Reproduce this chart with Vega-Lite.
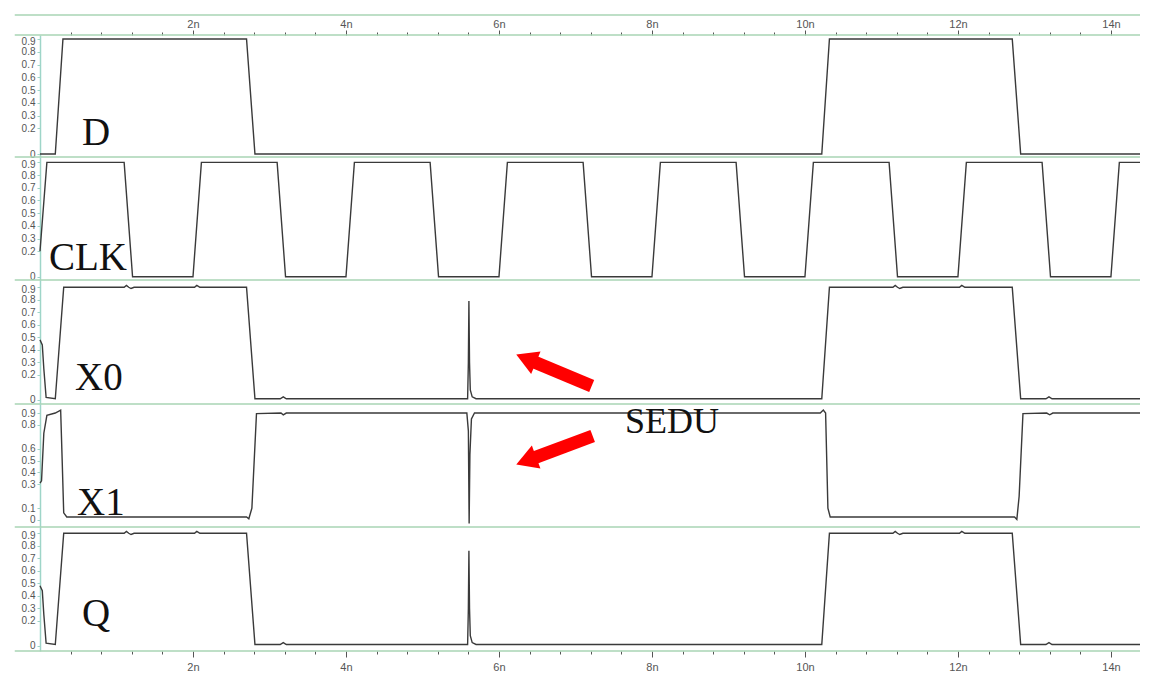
{
  "$schema": "https://vega.github.io/schema/vega-lite/v6.json",
  "background": "white",
  "padding": {"left": 14, "top": 14, "right": 20, "bottom": 10},
  "config": {"view": {"stroke": null}},
  "spacing": 0,
  "bounds": "flush",
  "datasets": {
    "w": [
      {"s":"D","t":0,"v":0},{"s":"D","t":0.2,"v":0},{"s":"D","t":0.3,"v":0.9},{"s":"D","t":2.7,"v":0.9},{"s":"D","t":2.81,"v":0},{"s":"D","t":10.22,"v":0},{"s":"D","t":10.32,"v":0.9},{"s":"D","t":12.71,"v":0.9},{"s":"D","t":12.82,"v":0},{"s":"D","t":14.38,"v":0},

      {"s":"CLK","t":0,"v":0.2},{"s":"CLK","t":0.09,"v":0.9},{"s":"CLK","t":1.1,"v":0.9},{"s":"CLK","t":1.21,"v":0},{"s":"CLK","t":2.0,"v":0},{"s":"CLK","t":2.11,"v":0.9},{"s":"CLK","t":3.1,"v":0.9},{"s":"CLK","t":3.21,"v":0},{"s":"CLK","t":4.0,"v":0},{"s":"CLK","t":4.11,"v":0.9},{"s":"CLK","t":5.1,"v":0.9},{"s":"CLK","t":5.21,"v":0},{"s":"CLK","t":6.0,"v":0},{"s":"CLK","t":6.11,"v":0.9},{"s":"CLK","t":7.1,"v":0.9},{"s":"CLK","t":7.21,"v":0},{"s":"CLK","t":8.0,"v":0},{"s":"CLK","t":8.11,"v":0.9},{"s":"CLK","t":9.1,"v":0.9},{"s":"CLK","t":9.21,"v":0},{"s":"CLK","t":10.0,"v":0},{"s":"CLK","t":10.11,"v":0.9},{"s":"CLK","t":11.1,"v":0.9},{"s":"CLK","t":11.21,"v":0},{"s":"CLK","t":12.0,"v":0},{"s":"CLK","t":12.11,"v":0.9},{"s":"CLK","t":13.1,"v":0.9},{"s":"CLK","t":13.21,"v":0},{"s":"CLK","t":14.0,"v":0},{"s":"CLK","t":14.11,"v":0.9},{"s":"CLK","t":14.38,"v":0.9},

      {"s":"X0","t":0,"v":0.48},{"s":"X0","t":0.03,"v":0.44},{"s":"X0","t":0.05,"v":0.25},{"s":"X0","t":0.08,"v":0.02},{"s":"X0","t":0.2,"v":0.01},{"s":"X0","t":0.31,"v":0.9},{"s":"X0","t":1.1,"v":0.9},{"s":"X0","t":1.13,"v":0.915},{"s":"X0","t":1.16,"v":0.9},{"s":"X0","t":1.19,"v":0.89},{"s":"X0","t":1.23,"v":0.9},{"s":"X0","t":2.02,"v":0.9},{"s":"X0","t":2.05,"v":0.915},{"s":"X0","t":2.09,"v":0.9},{"s":"X0","t":2.7,"v":0.9},{"s":"X0","t":2.81,"v":0.01},{"s":"X0","t":3.14,"v":0.01},{"s":"X0","t":3.18,"v":0.025},{"s":"X0","t":3.22,"v":0.01},{"s":"X0","t":5.59,"v":0.01},{"s":"X0","t":5.6,"v":0.3},{"s":"X0","t":5.607,"v":0.79},{"s":"X0","t":5.615,"v":0.3},{"s":"X0","t":5.625,"v":0.08},{"s":"X0","t":5.65,"v":0.025},{"s":"X0","t":5.7,"v":0.01},{"s":"X0","t":10.22,"v":0.01},{"s":"X0","t":10.32,"v":0.9},{"s":"X0","t":11.15,"v":0.9},{"s":"X0","t":11.18,"v":0.915},{"s":"X0","t":11.21,"v":0.9},{"s":"X0","t":11.24,"v":0.89},{"s":"X0","t":11.28,"v":0.9},{"s":"X0","t":12.02,"v":0.9},{"s":"X0","t":12.05,"v":0.915},{"s":"X0","t":12.09,"v":0.9},{"s":"X0","t":12.71,"v":0.9},{"s":"X0","t":12.82,"v":0.01},{"s":"X0","t":13.15,"v":0.01},{"s":"X0","t":13.19,"v":0.025},{"s":"X0","t":13.23,"v":0.01},{"s":"X0","t":14.38,"v":0.01},

      {"s":"X1","t":0,"v":0.31},{"s":"X1","t":0.02,"v":0.33},{"s":"X1","t":0.05,"v":0.73},{"s":"X1","t":0.09,"v":0.88},{"s":"X1","t":0.2,"v":0.9},{"s":"X1","t":0.27,"v":0.925},{"s":"X1","t":0.29,"v":0.5},{"s":"X1","t":0.31,"v":0.06},{"s":"X1","t":0.35,"v":0.025},{"s":"X1","t":2.7,"v":0.025},{"s":"X1","t":2.73,"v":0.01},{"s":"X1","t":2.77,"v":0.1},{"s":"X1","t":2.83,"v":0.895},{"s":"X1","t":3.15,"v":0.9},{"s":"X1","t":3.18,"v":0.885},{"s":"X1","t":3.22,"v":0.9},{"s":"X1","t":5.58,"v":0.9},{"s":"X1","t":5.6,"v":0.75},{"s":"X1","t":5.61,"v":-0.03},{"s":"X1","t":5.62,"v":0.55},{"s":"X1","t":5.64,"v":0.85},{"s":"X1","t":5.68,"v":0.9},{"s":"X1","t":10.2,"v":0.9},{"s":"X1","t":10.24,"v":0.925},{"s":"X1","t":10.27,"v":0.9},{"s":"X1","t":10.3,"v":0.1},{"s":"X1","t":10.33,"v":0.025},{"s":"X1","t":12.74,"v":0.025},{"s":"X1","t":12.77,"v":0.005},{"s":"X1","t":12.8,"v":0.2},{"s":"X1","t":12.85,"v":0.895},{"s":"X1","t":13.16,"v":0.9},{"s":"X1","t":13.2,"v":0.885},{"s":"X1","t":13.24,"v":0.9},{"s":"X1","t":14.38,"v":0.9},

      {"s":"Q","t":0,"v":0.48},{"s":"Q","t":0.03,"v":0.44},{"s":"Q","t":0.05,"v":0.25},{"s":"Q","t":0.08,"v":0.02},{"s":"Q","t":0.2,"v":0.01},{"s":"Q","t":0.31,"v":0.9},{"s":"Q","t":1.1,"v":0.9},{"s":"Q","t":1.13,"v":0.915},{"s":"Q","t":1.16,"v":0.9},{"s":"Q","t":1.19,"v":0.89},{"s":"Q","t":1.23,"v":0.9},{"s":"Q","t":2.02,"v":0.9},{"s":"Q","t":2.05,"v":0.915},{"s":"Q","t":2.09,"v":0.9},{"s":"Q","t":2.7,"v":0.9},{"s":"Q","t":2.81,"v":0.01},{"s":"Q","t":3.14,"v":0.01},{"s":"Q","t":3.18,"v":0.025},{"s":"Q","t":3.22,"v":0.01},{"s":"Q","t":5.59,"v":0.01},{"s":"Q","t":5.6,"v":0.3},{"s":"Q","t":5.607,"v":0.76},{"s":"Q","t":5.615,"v":0.3},{"s":"Q","t":5.625,"v":0.08},{"s":"Q","t":5.65,"v":0.025},{"s":"Q","t":5.7,"v":0.01},{"s":"Q","t":10.22,"v":0.01},{"s":"Q","t":10.32,"v":0.9},{"s":"Q","t":11.15,"v":0.9},{"s":"Q","t":11.18,"v":0.915},{"s":"Q","t":11.21,"v":0.9},{"s":"Q","t":11.24,"v":0.89},{"s":"Q","t":11.28,"v":0.9},{"s":"Q","t":12.02,"v":0.9},{"s":"Q","t":12.05,"v":0.915},{"s":"Q","t":12.09,"v":0.9},{"s":"Q","t":12.71,"v":0.9},{"s":"Q","t":12.82,"v":0.01},{"s":"Q","t":13.15,"v":0.01},{"s":"Q","t":13.19,"v":0.025},{"s":"Q","t":13.23,"v":0.01},{"s":"Q","t":14.38,"v":0.01}
    ],
    "one": [{}]
  },
  "vconcat": [
    {
      "width": 1100, "height": 122,
      "resolve": {"axis": {"x": "independent", "y": "independent"}},
      "layer": [
        {"data": {"name": "w"}, "transform": [{"filter": "datum.s === 'D'"}],
         "mark": {"type": "line", "color": "#3a3a3a", "strokeWidth": 1.4},
         "encoding": {
           "x": {"field": "t", "type": "quantitative", "scale": {"domain": [0, 14.38], "nice": false, "zero": false},
                 "axis": {"orient": "top", "title": null, "grid": false, "domain": false,
                          "values": [0.4,0.8,1.2,1.6,2,2.4,2.8,3.2,3.6,4,4.4,4.8,5.2,5.6,6,6.4,6.8,7.2,7.6,8,8.4,8.8,9.2,9.6,10,10.4,10.8,11.2,11.6,12,12.4,12.8,13.2,13.6,14],
                          "labelExpr": "datum.value % 2 === 0 ? datum.value + 'n' : ''",
                          "tickSize": {"condition": {"test": "datum.value % 2 === 0", "value": 5}, "value": 3},
                          "tickColor": "#555", "labelColor": "#555", "labelFont": "Liberation Sans", "labelFontSize": 11,
                          "labelPadding": 1, "labelOverlap": false, "labelFlush": false}},
           "y": {"field": "v", "type": "quantitative", "scale": {"domain": [-0.023, 0.931], "nice": false, "zero": false},
                 "axis": {"title": null, "grid": false, "values": [0,0.2,0.3,0.4,0.5,0.6,0.7,0.8,0.9], "format": "~g",
                          "labelOffset": {"condition": {"test": "datum.value === 0.9", "value": 2.5}, "value": 0},
                          "domainColor": "#9ed5c8", "domainWidth": 1.5, "tickColor": "#9ed5c8", "tickSize": 3,
                          "labelColor": "#555", "labelFont": "Liberation Sans", "labelFontSize": 10, "labelPadding": 2, "labelOverlap": false}}
         }},
        {"data": {"name": "one"}, "mark": {"type": "rule", "color": "#a8d4b4", "strokeWidth": 1.5, "clip": false},
         "encoding": {"x": {"datum": -0.33, "axis": null}, "x2": {"datum": 14.38}, "y": {"datum": 1.087, "axis": null}}},
        {"data": {"name": "one"}, "mark": {"type": "rule", "color": "#a8d4b4", "strokeWidth": 1.5, "clip": false},
         "encoding": {"x": {"datum": -0.33, "axis": null}, "x2": {"datum": 14.38}, "y": {"datum": 0.931, "axis": null}}},
        {"data": {"name": "one"}, "mark": {"type": "rule", "color": "#a8d4b4", "strokeWidth": 1.5, "clip": false},
         "encoding": {"x": {"datum": -0.33, "axis": null}, "x2": {"datum": 14.38}, "y": {"datum": -0.023, "axis": null}}},
        {"data": {"name": "one"}, "mark": {"type": "text", "font": "Liberation Serif", "fontSize": 39, "align": "left", "baseline": "alphabetic", "color": "#111"},
         "encoding": {"x": {"datum": 0.549, "axis": null}, "y": {"datum": 0.071, "axis": null}, "text": {"value": "D"}}}
      ]
    },
    {
      "width": 1100, "height": 123,
      "resolve": {"axis": {"x": "independent", "y": "independent"}},
      "layer": [
        {"data": {"name": "w"}, "transform": [{"filter": "datum.s === 'CLK'"}],
         "mark": {"type": "line", "color": "#3a3a3a", "strokeWidth": 1.4},
         "encoding": {
           "x": {"field": "t", "type": "quantitative", "scale": {"domain": [0, 14.38], "nice": false, "zero": false}, "axis": null},
           "y": {"field": "v", "type": "quantitative", "scale": {"domain": [-0.026, 0.942], "nice": false, "zero": false},
                 "axis": {"title": null, "grid": false, "values": [0,0.2,0.3,0.4,0.5,0.6,0.7,0.8,0.9], "format": "~g",
                          "labelOffset": {"condition": {"test": "datum.value === 0.9", "value": 2.5}, "value": 0},
                          "domainColor": "#9ed5c8", "domainWidth": 1.5, "tickColor": "#9ed5c8", "tickSize": 3,
                          "labelColor": "#555", "labelFont": "Liberation Sans", "labelFontSize": 10, "labelPadding": 2, "labelOverlap": false}}
         }},
        {"data": {"name": "one"}, "mark": {"type": "rule", "color": "#a8d4b4", "strokeWidth": 1.5, "clip": false},
         "encoding": {"x": {"datum": -0.33, "axis": null}, "x2": {"datum": 14.38}, "y": {"datum": -0.026, "axis": null}}},
        {"data": {"name": "one"}, "mark": {"type": "text", "font": "Liberation Serif", "fontSize": 39, "align": "left", "baseline": "alphabetic", "color": "#111"},
         "encoding": {"x": {"datum": 0.118, "axis": null}, "y": {"datum": 0.053, "axis": null}, "text": {"value": "CLK"}}}
      ]
    },
    {
      "width": 1100, "height": 124,
      "resolve": {"axis": {"x": "independent", "y": "independent"}},
      "layer": [
        {"data": {"name": "w"}, "transform": [{"filter": "datum.s === 'X0'"}],
         "mark": {"type": "line", "color": "#3a3a3a", "strokeWidth": 1.4},
         "encoding": {
           "x": {"field": "t", "type": "quantitative", "scale": {"domain": [0, 14.38], "nice": false, "zero": false}, "axis": null},
           "y": {"field": "v", "type": "quantitative", "scale": {"domain": [-0.032, 0.958], "nice": false, "zero": false},
                 "axis": {"title": null, "grid": false, "values": [0,0.2,0.3,0.4,0.5,0.6,0.7,0.8,0.9], "format": "~g",
                          "labelOffset": {"condition": {"test": "datum.value === 0.9", "value": 2.5}, "value": 0},
                          "domainColor": "#9ed5c8", "domainWidth": 1.5, "tickColor": "#9ed5c8", "tickSize": 3,
                          "labelColor": "#555", "labelFont": "Liberation Sans", "labelFontSize": 10, "labelPadding": 2, "labelOverlap": false}}
         }},
        {"data": {"name": "one"}, "mark": {"type": "rule", "color": "#a8d4b4", "strokeWidth": 1.5, "clip": false},
         "encoding": {"x": {"datum": -0.33, "axis": null}, "x2": {"datum": 14.38}, "y": {"datum": -0.032, "axis": null}}},
        {"data": {"name": "one"}, "mark": {"type": "text", "font": "Liberation Serif", "fontSize": 39, "align": "left", "baseline": "alphabetic", "color": "#111"},
         "encoding": {"x": {"datum": 0.458, "axis": null}, "y": {"datum": 0.08, "axis": null}, "text": {"value": "X0"}}},
        {"data": {"name": "one"}, "mark": {"type": "rule", "color": "#ff0000", "strokeWidth": 13, "strokeCap": "butt"},
         "encoding": {"x": {"datum": 7.212, "axis": null}, "y": {"datum": 0.112, "axis": null}, "x2": {"datum": 6.438}, "y2": {"datum": 0.309}}},
        {"data": {"name": "one"}, "mark": {"type": "point", "shape": "triangle-left", "size": 600, "filled": true, "opacity": 1, "color": "#ff0000", "angle": 22.6},
         "encoding": {"x": {"datum": 6.354, "axis": null}, "y": {"datum": 0.33, "axis": null}}}
      ]
    },
    {
      "width": 1100, "height": 123,
      "resolve": {"axis": {"x": "independent", "y": "independent"}},
      "layer": [
        {"data": {"name": "w"}, "transform": [{"filter": "datum.s === 'X1'"}],
         "mark": {"type": "line", "color": "#3a3a3a", "strokeWidth": 1.4},
         "encoding": {
           "x": {"field": "t", "type": "quantitative", "scale": {"domain": [0, 14.38], "nice": false, "zero": false}, "axis": null},
           "y": {"field": "v", "type": "quantitative", "scale": {"domain": [-0.059, 0.976], "nice": false, "zero": false},
                 "axis": {"title": null, "grid": false, "values": [0,0.1,0.3,0.4,0.5,0.6,0.8,0.9], "format": "~g",
                          "domainColor": "#9ed5c8", "domainWidth": 1.5, "tickColor": "#9ed5c8", "tickSize": 3,
                          "labelColor": "#555", "labelFont": "Liberation Sans", "labelFontSize": 10, "labelPadding": 2, "labelOverlap": false}}
         }},
        {"data": {"name": "one"}, "mark": {"type": "rule", "color": "#a8d4b4", "strokeWidth": 1.5, "clip": false},
         "encoding": {"x": {"datum": -0.33, "axis": null}, "x2": {"datum": 14.38}, "y": {"datum": -0.059, "axis": null}}},
        {"data": {"name": "one"}, "mark": {"type": "text", "font": "Liberation Serif", "fontSize": 39, "align": "left", "baseline": "alphabetic", "color": "#111"},
         "encoding": {"x": {"datum": 0.484, "axis": null}, "y": {"datum": 0.042, "axis": null}, "text": {"value": "X1"}}},
        {"data": {"name": "one"}, "mark": {"type": "text", "font": "Liberation Serif", "fontSize": 36, "align": "left", "baseline": "alphabetic", "color": "#111"},
         "encoding": {"x": {"datum": 7.647, "axis": null}, "y": {"datum": 0.732, "axis": null}, "text": {"value": "SEDU"}}},
        {"data": {"name": "one"}, "mark": {"type": "rule", "color": "#ff0000", "strokeWidth": 13, "strokeCap": "butt"},
         "encoding": {"x": {"datum": 7.225, "axis": null}, "y": {"datum": 0.707, "axis": null}, "x2": {"datum": 6.442}, "y2": {"datum": 0.519}}},
        {"data": {"name": "one"}, "mark": {"type": "point", "shape": "triangle-left", "size": 600, "filled": true, "opacity": 1, "color": "#ff0000", "angle": 339.5},
         "encoding": {"x": {"datum": 6.356, "axis": null}, "y": {"datum": 0.498, "axis": null}}}
      ]
    },
    {
      "width": 1100, "height": 124,
      "resolve": {"axis": {"x": "independent", "y": "independent"}},
      "layer": [
        {"data": {"name": "w"}, "transform": [{"filter": "datum.s === 'Q'"}],
         "mark": {"type": "line", "color": "#3a3a3a", "strokeWidth": 1.4},
         "encoding": {
           "x": {"field": "t", "type": "quantitative", "scale": {"domain": [0, 14.38], "nice": false, "zero": false},
                 "axis": {"orient": "bottom", "title": null, "grid": false, "domain": false,
                          "values": [0.4,0.8,1.2,1.6,2,2.4,2.8,3.2,3.6,4,4.4,4.8,5.2,5.6,6,6.4,6.8,7.2,7.6,8,8.4,8.8,9.2,9.6,10,10.4,10.8,11.2,11.6,12,12.4,12.8,13.2,13.6,14],
                          "labelExpr": "datum.value % 2 === 0 ? datum.value + 'n' : ''",
                          "tickSize": {"condition": {"test": "datum.value % 2 === 0", "value": 6}, "value": 3},
                          "tickColor": "#555", "labelColor": "#555", "labelFont": "Liberation Sans", "labelFontSize": 11,
                          "labelPadding": 4, "labelOverlap": false, "labelFlush": false}},
           "y": {"field": "v", "type": "quantitative", "scale": {"domain": [-0.042, 0.95], "nice": false, "zero": false},
                 "axis": {"title": null, "grid": false, "values": [0,0.2,0.3,0.4,0.5,0.6,0.7,0.8,0.9], "format": "~g",
                          "labelOffset": {"condition": {"test": "datum.value === 0.9", "value": 2.5}, "value": 0},
                          "domainColor": "#9ed5c8", "domainWidth": 1.5, "tickColor": "#9ed5c8", "tickSize": 3,
                          "labelColor": "#555", "labelFont": "Liberation Sans", "labelFontSize": 10, "labelPadding": 2, "labelOverlap": false}}
         }},
        {"data": {"name": "one"}, "mark": {"type": "rule", "color": "#a8d4b4", "strokeWidth": 1.5, "clip": false},
         "encoding": {"x": {"datum": -0.33, "axis": null}, "x2": {"datum": 14.38}, "y": {"datum": -0.042, "axis": null}}},
        {"data": {"name": "one"}, "mark": {"type": "text", "font": "Liberation Serif", "fontSize": 39, "align": "left", "baseline": "alphabetic", "color": "#111"},
         "encoding": {"x": {"datum": 0.549, "axis": null}, "y": {"datum": 0.158, "axis": null}, "text": {"value": "Q"}}}
      ]
    }
  ]
}
